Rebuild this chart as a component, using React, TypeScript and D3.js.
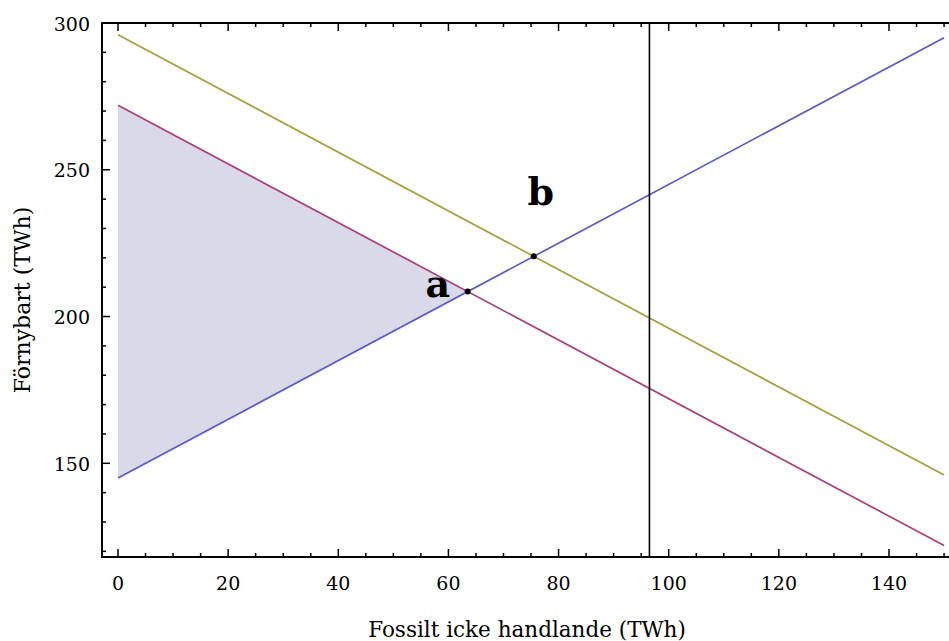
import React from 'react';
import * as d3 from 'd3';

// straight lines at both ends
const lineX = [0, 150];
const blueY = [145, 295];
const magentaY = [272, 122];
const oliveY = [296, 146];

// shaded area between blue (lower) and magenta (upper) up to point a
const shadeX = [0, 63.5];
const shadeLow = [145, 208.5];
const shadeHigh = [272, 208.5];

const limitX = 96.5;
const points = [
  { name: 'a', x: 63.5, y: 208.5, dx: -30, dy: 5 },
  { name: 'b', x: 75.5, y: 220.5, dx: 7, dy: -51 },
];

const xTicks = [0, 20, 40, 60, 80, 100, 120, 140];
const yTicks = [150, 200, 250, 300];

const W = 949;
const H = 641;
const left = 102;
const right = 949;
const top = 23;
const bottom = 557;

const xScale = d3.scaleLinear().domain([0, 140]).range([118, 889]);
const yScale = d3.scaleLinear().domain([150, 300]).range([463.3, 23]);

const font = '"DejaVu Serif", serif';

export default function App() {
  const toPts = (xs: number[], ys: number[]) => xs.map((x, i) => [x, ys[i]] as [number, number]);
  const line = d3.line<[number, number]>().x((d) => xScale(d[0])).y((d) => yScale(d[1]));
  const area = d3
    .area<number>()
    .x((d) => xScale(d))
    .y0((_, i) => yScale(shadeLow[i]))
    .y1((_, i) => yScale(shadeHigh[i]));

  const xMinor = d3.range(0, 151, 5).filter((v) => v % 20 !== 0);
  const yMinor = d3.range(120, 301, 10).filter((v) => v % 50 !== 0);

  const series = [
    { ys: oliveY, color: '#aa9c3c' },
    { ys: magentaY, color: '#a8407c' },
    { ys: blueY, color: '#5a5ac8' },
  ];

  return (
    <svg width={W} height={H} style={{ position: 'absolute', left: 0, top: 0, background: '#fff' }}>
      <path d={area(shadeX) || ''} fill="#d9d9ea" />
      {series.map((s, i) => (
        <path key={i} d={line(toPts(lineX, s.ys)) || ''} fill="none" stroke={s.color} strokeWidth={1.7} />
      ))}
      <line x1={xScale(limitX)} x2={xScale(limitX)} y1={top} y2={bottom} stroke="#000" strokeWidth={1.6} />
      {points.map((p) => (
        <g key={p.name}>
          <circle cx={xScale(p.x)} cy={yScale(p.y)} r={3} fill="#000" />
          <text
            x={xScale(p.x) + p.dx}
            y={yScale(p.y) + p.dy}
            fontFamily={font}
            fontWeight="bold"
            fontSize={38}
            textAnchor="middle"
          >
            {p.name}
          </text>
        </g>
      ))}

      {/* frame */}
      <path d={`M${right + 2},${top}H${left}V${bottom}H${right + 2}`} fill="none" stroke="#000" strokeWidth={2} />

      {/* x ticks, bottom and top */}
      {xTicks.map((t) => (
        <g key={'x' + t}>
          <line x1={xScale(t)} x2={xScale(t)} y1={bottom} y2={bottom - 8} stroke="#000" strokeWidth={1.5} />
          <line x1={xScale(t)} x2={xScale(t)} y1={top} y2={top + 8} stroke="#000" strokeWidth={1.5} />
          <text x={xScale(t)} y={590} textAnchor="middle" fontFamily={font} fontSize={19}>
            {t}
          </text>
        </g>
      ))}
      {xMinor.map((t) => (
        <g key={'xm' + t}>
          <line x1={xScale(t)} x2={xScale(t)} y1={bottom} y2={bottom - 4} stroke="#000" strokeWidth={1.5} />
          <line x1={xScale(t)} x2={xScale(t)} y1={top} y2={top + 4} stroke="#000" strokeWidth={1.5} />
        </g>
      ))}

      {/* y ticks */}
      {yTicks.map((t) => (
        <g key={'y' + t}>
          <line x1={left} x2={left + 8} y1={yScale(t)} y2={yScale(t)} stroke="#000" strokeWidth={1.5} />
          <text x={90} y={yScale(t) + 7.5} textAnchor="end" fontFamily={font} fontSize={19}>
            {t}
          </text>
        </g>
      ))}
      {yMinor.map((t) => (
        <line key={'ym' + t} x1={left} x2={left + 4} y1={yScale(t)} y2={yScale(t)} stroke="#000" strokeWidth={1.5} />
      ))}

      <text x={527} y={637} textAnchor="middle" fontFamily={font} fontSize={21.5}>
        Fossilt icke handlande (TWh)
      </text>
      <text
        transform={`translate(30,300) rotate(-90)`}
        textAnchor="middle"
        fontFamily={font}
        fontSize={22}
      >
        Förnybart (TWh)
      </text>
    </svg>
  );
}
